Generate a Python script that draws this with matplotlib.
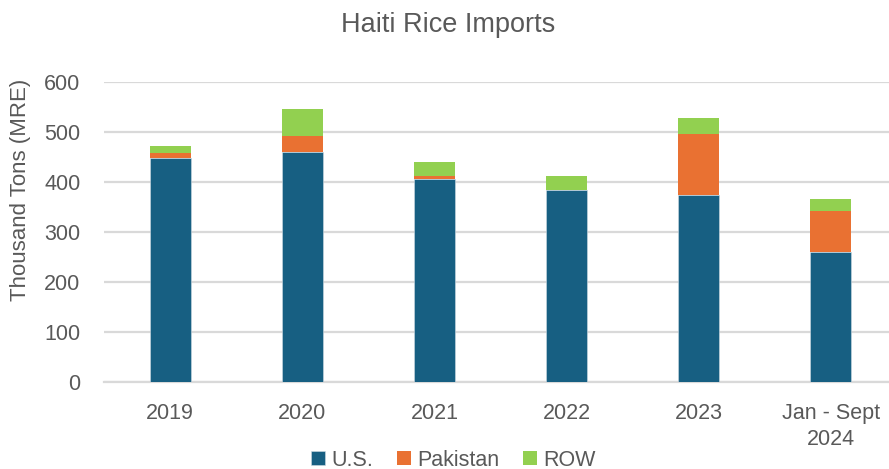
import matplotlib.pyplot as plt
import numpy as np

# data (thousand tons, MRE)
years = ['2019', '2020', '2021', '2022', '2023', 'Jan - Sept\n2024']
us = [449, 461, 406, 384, 375, 261]
pakistan = [10, 32, 6, 0, 122, 81]
row = [13, 53, 29, 28, 31, 24]

plt.rcParams['font.family'] = ['Liberation Sans', 'DejaVu Sans']
grey = '#595959'

fig = plt.figure(figsize=(8.89, 4.69), dpi=100)
ax = fig.add_axes([104 / 889, 1 - 382.3 / 469, 1 - 104 / 889, 300.3 / 469])

x = np.arange(len(years))
w = 0.31
us_a = np.array(us)
pk_a = np.array(pakistan)
ax.bar(x, us, w, color='#175F82', label='U.S.', zorder=3, edgecolor='#cfdbe3', linewidth=0.4)
ax.bar(x, pakistan, w, bottom=us_a, color='#E97132', label='Pakistan', zorder=3)
ax.bar(x, row, w, bottom=us_a + pk_a, color='#92D050', label='ROW', zorder=3)

ax.set_xlim(-0.5, 5.44)
ax.set_ylim(0, 600)
ax.set_yticks(range(0, 601, 100))
ax.grid(axis='y', color='#d9d9d9', linewidth=1.6, zorder=0)
for s in ['top', 'right', 'left']:
    ax.spines[s].set_visible(False)
ax.spines['bottom'].set_color('#d9d9d9')
ax.spines['bottom'].set_linewidth(1.6)
ax.tick_params(length=0, colors=grey, labelsize=15.5)
ax.set_xticks(x)
ax.set_xticklabels(years, linespacing=1.3)
ax.tick_params(axis='x', pad=15)
ax.tick_params(axis='y', pad=17)

fig.text(21 / 889, 1 - 190 / 469, 'Thousand Tons (MRE)', rotation=90, ha='center', va='center',
         color=grey, fontsize=16)
fig.text(0.504, 1 - 25 / 469, 'Haiti Rice Imports', ha='center', va='center', fontsize=19.5, color=grey)

leg = fig.legend(loc='center', bbox_to_anchor=(0.51, 1 - 460 / 469), ncol=3, frameon=False,
                 fontsize=15.5, handlelength=0.65, handleheight=0.65, handletextpad=0.3,
                 columnspacing=1.1, borderaxespad=0, borderpad=0)
for t in leg.get_texts():
    t.set_color(grey)

fig.savefig('out.png', dpi=100)
